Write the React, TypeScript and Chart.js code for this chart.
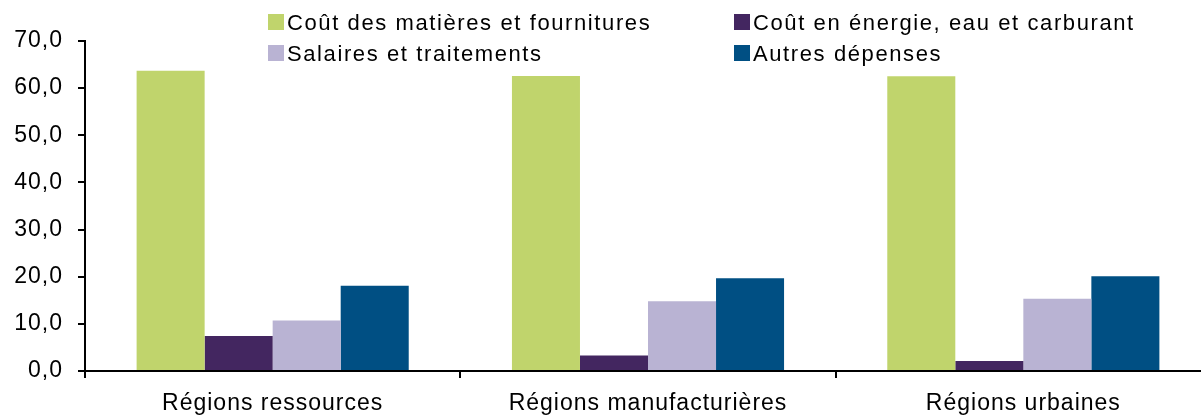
import React, { useEffect, useRef } from "react";
import { Chart, registerables } from "chart.js";

Chart.register(...registerables);

const categories = ["Régions ressources", "Régions manufacturières", "Régions urbaines"];
const seriesNames = [
  "Coût des matières et fournitures",
  "Coût en énergie, eau et carburant",
  "Salaires et traitements",
  "Autres dépenses",
];
const materials = [63.7, 62.6, 62.5];
const energy = [7.4, 3.3, 2.1];
const salaries = [10.7, 14.8, 15.3];
const other = [18.1, 19.7, 20.1];
const colors = ["#C0D46C", "#432660", "#B9B3D3", "#004F83"];
const yMin = 0;
const yMax = 70;
const yStep = 10;

const FONT = "'Liberation Sans', Arial, sans-serif";

const legendPos = [
  { left: 268, top: 14 },
  { left: 734, top: 14 },
  { left: 268, top: 45 },
  { left: 734, top: 45 },
];

const spacingPlugin = {
  id: "letterSpacing",
  beforeDraw(chart: any) {
    try {
      (chart.ctx as any).letterSpacing = "1px";
    } catch (e) {}
  },
};

export default function App() {
  const ref = useRef<HTMLCanvasElement | null>(null);

  useEffect(() => {
    if (!ref.current) return;
    const values = [materials, energy, salaries, other];
    const chart = new Chart(ref.current, {
      type: "bar",
      data: {
        labels: categories,
        datasets: values.map((v, i) => ({
          label: seriesNames[i],
          data: v,
          backgroundColor: colors[i],
          borderWidth: 0,
          barPercentage: 1,
          categoryPercentage: 0.725,
        })),
      },
      options: {
        animation: false,
        responsive: false,
        devicePixelRatio: 1,
        layout: { padding: { top: 41, left: 0, right: 1, bottom: 0 } },
        plugins: {
          legend: { display: false },
          tooltip: { enabled: false },
        },
        scales: {
          x: {
            grid: {
              display: true,
              offset: true,
              drawOnChartArea: false,
              drawTicks: true,
              tickLength: 7,
              color: "#000000",
              lineWidth: 2,
            },
            border: { display: true, color: "#000000", width: 2 },
            ticks: {
              color: "#000000",
              font: { family: FONT, size: 23 },
              padding: 12,
              maxRotation: 0,
            },
            afterFit: (scale: any) => {
              scale.height = 46;
            },
          },
          y: {
            min: yMin,
            max: yMax,
            grid: {
              display: true,
              drawOnChartArea: false,
              drawTicks: true,
              tickLength: 7,
              color: "#000000",
              lineWidth: 2,
            },
            border: { display: true, color: "#000000", width: 2 },
            ticks: {
              stepSize: yStep,
              color: "#000000",
              font: { family: FONT, size: 23 },
              padding: 15,
              callback: (v: any) => Number(v).toFixed(1).replace(".", ","),
            },
            afterFit: (scale: any) => {
              scale.width = 85;
            },
          },
        },
      },
      plugins: [spacingPlugin],
    });
    return () => chart.destroy();
  }, []);

  return (
    <div
      style={{
        position: "absolute",
        left: 0,
        top: 0,
        width: 1201,
        height: 417,
        overflow: "hidden",
        background: "#ffffff",
      }}
    >
      <canvas ref={ref} width={1212} height={417} style={{ position: "absolute", left: 0, top: 0 }} />
      {seriesNames.map((name, i) => (
        <div
          key={name}
          style={{
            position: "absolute",
            left: legendPos[i].left,
            top: legendPos[i].top,
            height: 16,
            whiteSpace: "nowrap",
          }}
        >
          <div
            style={{
              position: "absolute",
              left: 0,
              top: 0,
              width: 16,
              height: 16,
              background: colors[i],
            }}
          />
          <div
            style={{
              position: "absolute",
              left: 19,
              top: 1,
              height: 16,
              lineHeight: "16px",
              fontFamily: FONT,
              fontSize: 22,
              letterSpacing: "1.6px",
              color: "#000000",
            }}
          >
            {name}
          </div>
        </div>
      ))}
    </div>
  );
}
